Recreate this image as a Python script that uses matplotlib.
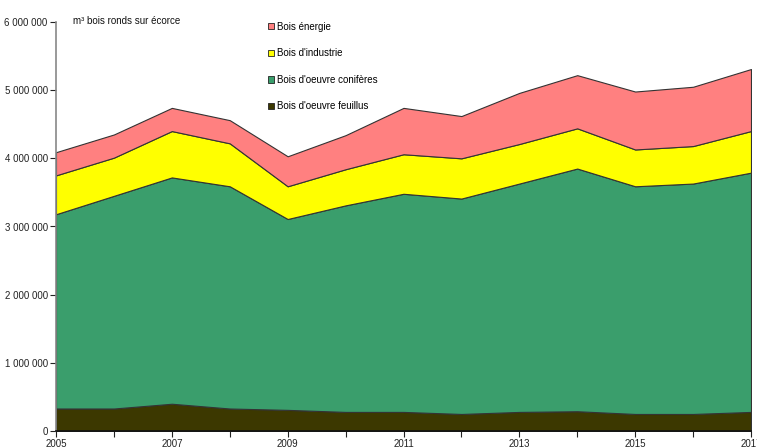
import numpy as np
import matplotlib
matplotlib.use('Agg')
import matplotlib.pyplot as plt
from matplotlib.patches import Patch
from matplotlib.ticker import FuncFormatter

plt.rcParams['font.family'] = ['Liberation Sans', 'DejaVu Sans']

years = list(range(2005, 2018))

# m3 bois ronds sur ecorce
feuillus = [330000, 330000, 400000, 330000, 310000, 280000, 280000, 250000, 280000, 290000, 250000, 250000, 280000]
coniferes = [2850000, 3120000, 3320000, 3260000, 2800000, 3030000, 3200000, 3160000, 3350000, 3560000, 3340000, 3380000, 3510000]
industrie = [570000, 560000, 680000, 630000, 480000, 530000, 580000, 590000, 580000, 590000, 540000, 550000, 610000]
energie = [340000, 340000, 340000, 340000, 440000, 500000, 680000, 620000, 750000, 780000, 850000, 870000, 910000]

labels = ["Bois d'oeuvre feuillus", "Bois d'oeuvre conifères", "Bois d'industrie", "Bois énergie"]
colors = ['#3C3800', '#3A9E6C', '#FFFF00', '#FF8080']

fig = plt.figure(figsize=(7.57, 4.48), dpi=100)
ax = fig.add_axes([56 / 757, 17 / 448, 695 / 757, 409 / 448])

polys = ax.stackplot(years, feuillus, coniferes, industrie, energie,
                     colors=colors, edgecolor='#333333', linewidth=0.8)

ax.set_xlim(2005, 2017)
ax.set_ylim(0, 6000000)

ax.set_xticks(years)
ax.set_xticklabels([str(y) if (y - 2005) % 2 == 0 else '' for y in years])
ax.set_yticks(np.arange(0, 6000001, 1000000))
ax.yaxis.set_major_formatter(FuncFormatter(lambda v, p: f"{int(v):,}".replace(',', ' ')))
ax.tick_params(axis='both', labelsize=7, length=4, width=0.8, colors='#222222', pad=2)

for s in ['top', 'right']:
    ax.spines[s].set_visible(False)
ax.spines['left'].set_color('#888888')
ax.spines['bottom'].set_color('#111111')
ax.spines['left'].set_linewidth(1.2)
ax.spines['bottom'].set_linewidth(1.2)

ax.text(0.024, 0.99, "m³ bois ronds sur écorce", transform=ax.transAxes,
        fontsize=7, va='bottom', ha='left', color='#111111')

handles = [Patch(facecolor=c, edgecolor='#222222', linewidth=0.6) for c in colors]
leg = ax.legend(handles[::-1], labels[::-1], loc='upper left',
                bbox_to_anchor=(0.30, 1.01), frameon=False, fontsize=7,
                handlelength=0.6, handleheight=0.6, handletextpad=0.3,
                labelspacing=1.7, borderaxespad=0)

fig.savefig('out.png', dpi=100)
